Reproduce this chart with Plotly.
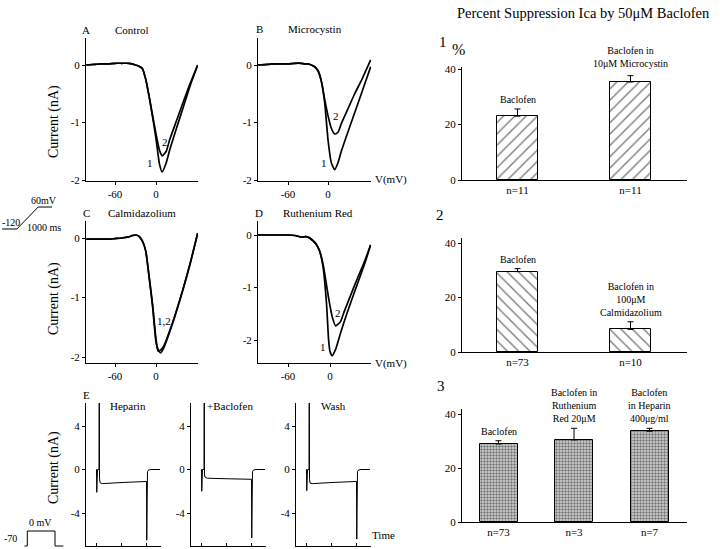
import plotly.graph_objects as go

FONT = "Liberation Serif"
W, H = 720, 549

# ---------------- data ----------------
# Panel A (Control) I-V
V_A = [-102, -90, -80, -70, -60, -50, -40, -35, -30, -25, -20, -15, -10, -5, 0, 5, 9, 15, 20, 30, 40, 50, 61]
A1 = [0.0, 0.01, 0.02, 0.02, 0.03, 0.03, 0.03, 0.02, 0.0, -0.02, -0.06, -0.25, -0.55, -0.9, -1.28, -1.72, -1.86, -1.7, -1.48, -1.1, -0.73, -0.36, 0.0]
A2 = [0.0, 0.01, 0.02, 0.02, 0.03, 0.03, 0.03, 0.02, 0.0, -0.02, -0.06, -0.25, -0.55, -0.88, -1.2, -1.48, -1.58, -1.5, -1.3, -0.97, -0.64, -0.32, 0.0]
# Panel B (Microcystin)
V_B = [-105, -90, -80, -70, -60, -50, -40, -35, -30, -25, -20, -15, -10, -5, 0, 5, 10, 15, 20, 30, 40, 50, 64]
B1 = [0.0, 0.01, 0.02, 0.02, 0.02, 0.03, 0.03, 0.02, 0.02, 0.0, -0.03, -0.1, -0.28, -0.65, -1.3, -1.7, -1.82, -1.7, -1.5, -1.16, -0.83, -0.5, -0.03]
B2 = [0.0, 0.01, 0.02, 0.02, 0.02, 0.03, 0.03, 0.02, 0.02, 0.0, -0.03, -0.1, -0.28, -0.6, -0.88, -1.1, -1.2, -1.17, -1.02, -0.76, -0.5, -0.27, 0.09]
# Panel C (Calmidazolium)
V_C = [-102, -90, -80, -70, -60, -50, -40, -35, -30, -25, -20, -15, -10, -5, 0, 3, 7, 12, 20, 25, 30, 40, 50, 61]
C1 = [-0.02, -0.02, -0.02, -0.02, -0.01, 0.0, 0.02, 0.04, 0.05, 0.03, -0.05, -0.22, -0.67, -1.15, -1.75, -1.87, -1.93, -1.83, -1.58, -1.41, -1.23, -0.85, -0.43, 0.08]
C2 = [-0.02, -0.02, -0.02, -0.02, -0.01, 0.0, 0.02, 0.04, 0.05, 0.03, -0.05, -0.22, -0.65, -1.12, -1.7, -1.9, -1.88, -1.8, -1.56, -1.4, -1.22, -0.84, -0.43, 0.08]
# Panel D (Ruthenium Red)
V_D = [-103, -90, -80, -70, -60, -50, -40, -35, -30, -25, -20, -15, -10, -5, -2, 0, 3, 8, 15, 20, 30, 40, 50, 58]
D1 = [0.0, 0.0, 0.0, 0.0, 0.0, -0.01, -0.04, -0.03, -0.05, -0.1, -0.17, -0.3, -0.6, -1.3, -2.0, -2.22, -2.3, -2.18, -1.87, -1.66, -1.27, -0.9, -0.53, -0.19]
D2 = [0.0, 0.0, 0.0, 0.0, 0.0, -0.01, -0.04, -0.03, -0.05, -0.1, -0.17, -0.3, -0.55, -0.95, -1.2, -1.35, -1.55, -1.73, -1.65, -1.47, -1.13, -0.8, -0.48, -0.19]

# Panel E current traces (time in ms, current in nA)
tE = [0, 2, 3, 4, 6, 12, 13, 14, 16, 25, 100, 202, 203, 204, 206, 210, 220, 256]
E_hep = [0, 0, -2.1, 0, 0, 0, 12, -0.8, -1.2, -1.3, -1.2, -1.1, -6.5, -0.5, -0.2, -0.05, 0, 0]
E_bac = [0, 0, -2.0, 0, 0, 0, 12, -0.5, -0.7, -0.8, -0.85, -0.9, -6.3, -0.5, -0.2, -0.05, 0, 0]
E_wash = [0, 0, -1.95, 0, 0, 0, 12, -0.9, -1.25, -1.3, -1.2, -1.1, -6.4, -0.5, -0.2, -0.05, 0, 0]

# Voltage protocols
ramp_t = [-700, 0, 1000, 1650]
ramp_v = [-120, -120, 60, 60]
step_t = [-10, 0, 0, 100, 100, 130]
step_v = [-70, -70, 0, 0, -70, -70]

# Bar panels: percent suppression
p1_labels = ["Baclofen", "Baclofen in<br>10\u03bcM Microcystin"]
p1_vals = [23.0, 35.3]
p1_err = [2.6, 2.3]
p1_n = ["n=11", "n=11"]

p2_labels = ["Baclofen", "Baclofen in<br>100\u03bcM<br>Calmidazolium"]
p2_vals = [29.5, 8.3]
p2_err = [1.1, 2.8]
p2_n = ["n=73", "n=10"]

p3_labels = ["Baclofen", "Baclofen in<br>Ruthenium<br>Red 20\u03bcM", "Baclofen<br>in Heparin<br>400\u03bcg/ml"]
p3_vals = [28.9, 30.4, 33.6]
p3_err = [1.2, 4.3, 1.1]
p3_n = ["n=73", "n=3", "n=7"]

# ---------------- helpers ----------------
def lin(p0, v0, p1, v1, e):
    return v0 + (e - p0) * (v1 - v0) / (p1 - p0)

def xdom(a, b):
    return [a / W, b / W]

def ydom(top, bottom):
    return [1 - bottom / H, 1 - top / H]

def axis(domain, rng, **kw):
    d = dict(domain=domain, range=rng, showline=True, linecolor="black", linewidth=1,
             ticks="outside", ticklen=3, tickcolor="black", tickwidth=1,
             tickfont=dict(size=11, family=FONT, color="black"), automargin=False,
             showgrid=False, zeroline=False, fixedrange=True)
    d.update(kw)
    return d

def hidden(domain, rng, **kw):
    d = dict(domain=domain, range=rng, visible=False, fixedrange=True, automargin=False)
    d.update(kw)
    return d

def ann(text, px, py, size=11, xanchor="center", **kw):
    d = dict(text=text, x=px / W, y=1 - py / H, xref="paper", yref="paper", showarrow=False,
             font=dict(size=size, family=FONT, color="black"), xanchor=xanchor, yanchor="middle")
    d.update(kw)
    return d

fig = go.Figure()
layout = {}

# ---------- IV panels ----------
iv = [
    ("", (86, 198), (38, 181), (115, 156), (65, 180), V_A, [A1, A2]),
    ("2", (258, 371), (38, 181), (288, 328), (65, 180), V_B, [B1, B2]),
    ("3", (86, 198), (221, 363), (115, 156), (238, 357), V_C, [C1, C2]),
    ("4", (258, 371), (221, 363), (288, 330), (235, 340), V_D, [D1, D2]),
]
for sfx, (x0, x1), (y0, y1), (tm60, t0), (y0p, ym2), V, curves in iv:
    xr = [lin(tm60, -60, t0, 0, x0), lin(tm60, -60, t0, 0, x1)]
    yr = [lin(y0p, 0, ym2, -2, y1), lin(y0p, 0, ym2, -2, y0)]
    for c in curves:
        fig.add_trace(go.Scatter(x=V, y=c, mode="lines", line=dict(color="black", width=1.7, shape="spline", smoothing=0.5),
                                 xaxis="x" + sfx, yaxis="y" + sfx, hoverinfo="skip"))
    layout["xaxis" + sfx] = axis(xdom(x0, x1), xr, anchor="y" + sfx, tickvals=[-60, 0], ticktext=["-60", "0"])
    yt = [-2, -1, 0]
    layout["yaxis" + sfx] = axis(ydom(y0, y1), yr, anchor="x" + sfx, tickvals=yt, ticktext=[str(v) for v in yt])

# ---------- E panels ----------
E_boxes = [("5", 86, 161, E_hep), ("6", 191, 266, E_bac), ("7", 296, 371, E_wash)]
for sfx, x0, x1, cur in E_boxes:
    yr = [lin(426, 4, 513, -4, 546), lin(426, 4, 513, -4, 403)]
    fig.add_trace(go.Scatter(x=tE, y=cur, mode="lines", line=dict(color="black", width=1),
                             xaxis="x" + sfx, yaxis="y" + sfx, hoverinfo="skip"))
    layout["xaxis" + sfx] = axis(xdom(x0, x1), [-40, 260], anchor="y" + sfx, tickvals=[0, 100, 200],
                                 showticklabels=False, ticks="inside")
    layout["yaxis" + sfx] = axis(ydom(403, 546), yr, anchor="x" + sfx, tickvals=[-4, 0, 4],
                                 ticktext=["-4", "0", "4"])

# ---------- protocol sketches ----------
fig.add_trace(go.Scatter(x=ramp_t, y=ramp_v, mode="lines", line=dict(color="black", width=1),
                         xaxis="x11", yaxis="y11", hoverinfo="skip"))
layout["xaxis11"] = hidden(xdom(0, 56), [lin(2, -700, 52, 1650, 0), lin(2, -700, 52, 1650, 56)])
layout["yaxis11"] = hidden(ydom(203, 233), [lin(207, 60, 229, -120, 233), lin(207, 60, 229, -120, 203)], anchor="x11")
fig.add_trace(go.Scatter(x=step_t, y=step_v, mode="lines", line=dict(color="black", width=1),
                         xaxis="x12", yaxis="y12", hoverinfo="skip"))
layout["xaxis12"] = hidden(xdom(18, 68), [lin(27.3, 0, 55, 100, 18), lin(27.3, 0, 55, 100, 68)])
layout["yaxis12"] = hidden(ydom(527, 549), [lin(531, 0, 546, -70, 549), lin(531, 0, 546, -70, 527)], anchor="x12")

# ---------- bar panels ----------
annotations = []
bar_panels = [
    ("8", (67, 180), (180, 69), p1_vals, p1_err, p1_n, p1_labels, [517.5, 630.5], 41, "/", [2, 5]),
    ("9", (238, 352), (352, 243), p2_vals, p2_err, p2_n, p2_labels, [517.5, 630.5], 41, "\\", [2, 2]),
    ("10", (409, 522), (522, 414), p3_vals, p3_err, p3_n, p3_labels, [498.5, 574, 649], 38, ".", [2, 2, 2]),
]
for sfx, (y0, y1), (p0, p40), vals, err, ns, labs, centers, bw, pat, shifts in bar_panels:
    idx = list(range(len(vals)))
    step = centers[1] - centers[0]
    xr = [lin(centers[0], 0, centers[1], 1, 462), lin(centers[0], 0, centers[1], 1, 687)]
    yr = [lin(p0, 0, p40, 40, y1), lin(p0, 0, p40, 40, y0)]
    if pat == ".":
        mk = dict(color="#9a9a9a", line=dict(color="black", width=1),
                  pattern=dict(shape=".", fgcolor="#111111", bgcolor="#d8d8d8", size=3, solidity=0.5))
    else:
        mk = dict(color="white", line=dict(color="black", width=1),
                  pattern=dict(shape=pat, fgcolor="black", bgcolor="white", size=8, solidity=0.18))
    fig.add_trace(go.Bar(x=idx, y=vals, width=bw / step, marker=mk,
                         error_y=dict(type="data", symmetric=False, array=err, arrayminus=[0] * len(err),
                                      color="black", thickness=1, width=3),
                         xaxis="x" + sfx, yaxis="y" + sfx, hoverinfo="skip"))
    layout["xaxis" + sfx] = axis(xdom(462, 687), xr, anchor="y" + sfx, tickvals=idx, ticktext=ns, ticks="")
    layout["yaxis" + sfx] = axis(ydom(y0, y1), yr, anchor="x" + sfx, tickvals=[0, 20, 40],
                                 ticktext=["0", "20", "40"])
    for i, (v, e, lab) in enumerate(zip(vals, err, labs)):
        annotations.append(dict(text=lab, x=i, y=v + e, xref="x" + sfx, yref="y" + sfx, showarrow=False,
                                yanchor="bottom", yshift=shifts[i], font=dict(size=10, family=FONT, color="black")))

# ---------- text ----------
annotations += [
    ann("Percent Suppression Ica by 50\u03bcM Baclofen", 583, 13, size=14.5),
    ann("A", 86, 30), ann("Control", 132, 30),
    ann("B", 259, 29), ann("Microcystin", 315, 29),
    ann("C", 86, 213), ann("Calmidazolium", 142, 213),
    ann("D", 259, 213), ann("Ruthenium Red", 318, 213),
    ann("E", 86, 395), ann("Heparin", 128, 406), ann("+Baclofen", 230, 406), ann("Wash", 333, 406),
    ann("Current (nA)", 54, 122, size=14, textangle=-90),
    ann("Current (nA)", 54, 299, size=14, textangle=-90),
    ann("Current (nA)", 54, 468, size=14, textangle=-90),
    ann("2", 165, 142), ann("1", 150, 163),
    ann("2", 336, 116), ann("1", 324, 163),
    ann("1,2", 164, 321),
    ann("2", 338, 313), ann("1", 323, 347),
    ann("V(mV)", 373, 180, xanchor="left"),
    ann("V(mV)", 373, 363, xanchor="left"),
    ann("Time", 370, 535, xanchor="left"),
    ann("60mV", 44, 200, size=10), ann("-120", 11, 223, size=10), ann("1000 ms", 44, 227, size=10),
    ann("0 mV", 40, 522, size=10), ann("-70", 10, 538, size=10),
    ann("1", 443, 42, size=15), ann("%", 459, 50, size=16),
    ann("2", 440, 215, size=15), ann("3", 441, 386, size=15),
]

layout.update(dict(width=W, height=H, margin=dict(l=0, r=0, t=0, b=0, pad=0, autoexpand=False), showlegend=False,
                   plot_bgcolor="white", paper_bgcolor="white", bargap=0,
                   font=dict(family=FONT, color="black"), annotations=annotations))
fig.update_layout(**layout)
post = ("var gd=document.getElementById('{plot_id}');"
        "gd.style.position='fixed';gd.style.top='0px';gd.style.left='0px';"
        "document.body.style.margin='0px';document.body.style.overflow='hidden';")
fig.write_html("out.html", config={"displayModeBar": False}, post_script=post)
